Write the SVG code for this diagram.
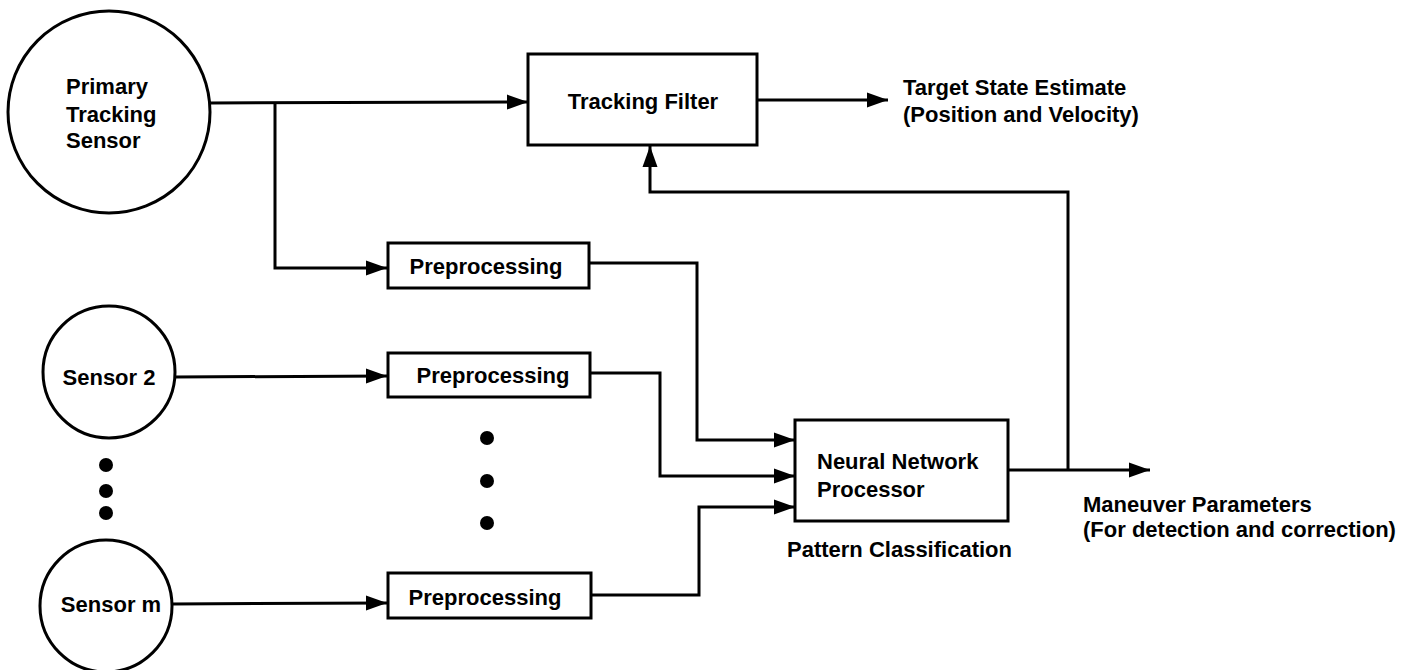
<svg xmlns="http://www.w3.org/2000/svg" width="1418" height="670" viewBox="0 0 1418 670">
<defs>
<style>
.n{fill:#fff;stroke:#000;stroke-width:3}
.t{font-family:"Liberation Sans",Arial,Helvetica,sans-serif;font-weight:bold;font-size:22px;fill:#000}
.c{fill:none;stroke:#000;stroke-width:3;stroke-linejoin:miter}
.d{fill:#000}
</style>
<marker id="ah" markerWidth="22" markerHeight="16" refX="21" refY="8" orient="auto" markerUnits="userSpaceOnUse">
<path d="M0,0.5 L21,8 L0,15.5 Z" fill="#000"/>
</marker>
</defs>
<rect width="1418" height="670" fill="#fff"/>

<g id="connectors">
<path class="c" d="M210,103 L528,102" marker-end="url(#ah)"/>
<path class="c" d="M275,103 L275,268 L387,268" marker-end="url(#ah)"/>
<path class="c" d="M757,100 L888,100" marker-end="url(#ah)"/>
<path class="c" d="M1068,470 L1068,192 L650,192 L650,146" marker-end="url(#ah)"/>
<path class="c" d="M175,377 L387,376" marker-end="url(#ah)"/>
<path class="c" d="M172,604 L387,603" marker-end="url(#ah)"/>
<path class="c" d="M589,263 L697,263 L697,440 L795,440" marker-end="url(#ah)"/>
<path class="c" d="M590,373 L660,373 L660,476 L795,476" marker-end="url(#ah)"/>
<path class="c" d="M591,595 L699,595 L699,507 L795,507" marker-end="url(#ah)"/>
<path class="c" d="M1008,470 L1150,470" marker-end="url(#ah)"/>
</g>

<g id="primary-sensor">
<circle class="n" cx="109" cy="112" r="101"/>
<text class="t" x="66" y="94">Primary</text>
<text class="t" x="66" y="122">Tracking</text>
<text class="t" x="66" y="148">Sensor</text>
</g>

<g id="tracking-filter">
<rect class="n" x="528" y="54" width="229" height="91"/>
<text class="t" x="643" y="109" text-anchor="middle">Tracking Filter</text>
</g>

<g id="target-state-label">
<text class="t" x="903" y="95">Target State Estimate</text>
<text class="t" x="903" y="122">(Position and Velocity)</text>
</g>

<g id="preprocessing-1">
<rect class="n" x="388" y="243" width="201" height="45"/>
<text class="t" x="486" y="274" text-anchor="middle">Preprocessing</text>
</g>

<g id="sensor-2">
<circle class="n" cx="109" cy="372" r="66"/>
<text class="t" x="109" y="385" text-anchor="middle">Sensor 2</text>
</g>

<g id="preprocessing-2">
<rect class="n" x="388" y="353" width="202" height="44"/>
<text class="t" x="493" y="383" text-anchor="middle">Preprocessing</text>
</g>

<g id="sensor-dots">
<circle class="d" cx="106" cy="465" r="7"/>
<circle class="d" cx="106" cy="491" r="7"/>
<circle class="d" cx="106" cy="513" r="7"/>
</g>

<g id="preprocessing-dots">
<circle class="d" cx="487" cy="438" r="7"/>
<circle class="d" cx="487" cy="481" r="7"/>
<circle class="d" cx="487" cy="523" r="7"/>
</g>

<g id="sensor-m">
<circle class="n" cx="106" cy="606" r="66"/>
<text class="t" x="111" y="612" text-anchor="middle">Sensor m</text>
</g>

<g id="preprocessing-3">
<rect class="n" x="388" y="573" width="203" height="45"/>
<text class="t" x="485" y="605" text-anchor="middle">Preprocessing</text>
</g>

<g id="neural-network">
<rect class="n" x="795" y="420" width="213" height="101"/>
<text class="t" x="817" y="469">Neural Network</text>
<text class="t" x="817" y="497">Processor</text>
<text class="t" x="787" y="557">Pattern Classification</text>
</g>

<g id="maneuver-label">
<text class="t" x="1083" y="512">Maneuver Parameters</text>
<text class="t" x="1083" y="537">(For detection and correction)</text>
</g>
</svg>
